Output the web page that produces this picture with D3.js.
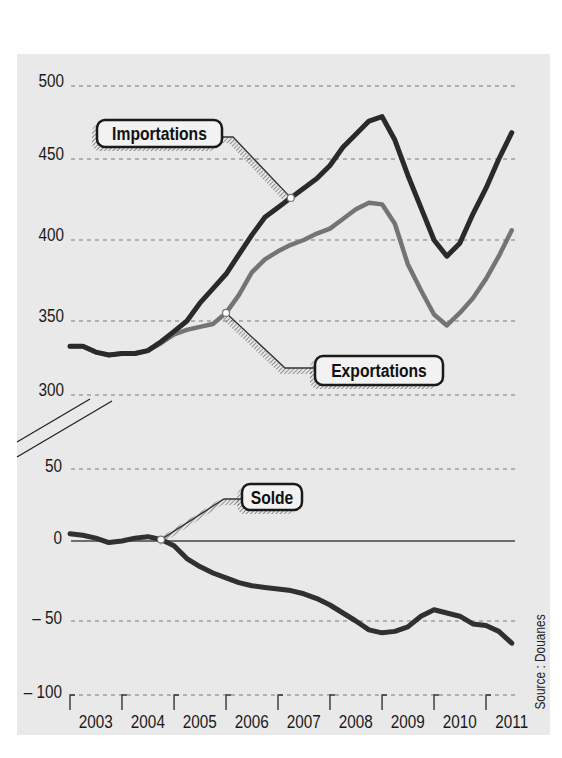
<!DOCTYPE html>
<html><head><meta charset="utf-8">
<script src="https://cdn.jsdelivr.net/npm/d3@7"></script>
<style>body{margin:0;background:#fff}svg{display:block}</style>
</head><body><svg id="c" width="562" height="758"></svg>
<script>
// ---- data (quarterly readings, in billions of euros) ----
const periods = ["2003-01","2003-04","2003-07","2003-10","2004-01","2004-04","2004-07","2004-10",
  "2005-01","2005-04","2005-07","2005-10","2006-01","2006-04","2006-07","2006-10",
  "2007-01","2007-04","2007-07","2007-10","2008-01","2008-04","2008-07","2008-10",
  "2009-01","2009-04","2009-07","2009-10","2010-01","2010-04","2010-07","2010-10",
  "2011-01","2011-04","2011-07"];
const importations = [333,333,329,327,328,328,330,336,343,350,361,370,379,391,403,414,
  420,426,432,438,446,458,467,476,479,463,440,420,400,390,398,416,432,450,468];
const exportations = [333,333,329,327,328,328,330,335,341,344,346,348,355,366,380,388,
  393,397,400,404,407,413,419,423,422,410,385,369,354,347,355,364,376,390,406];
const solde = [5,4,2,-1,0,2,3,1,-3,-11,-16,-20,-23,-26,-28,-29,-30,-31,-33,-36,-40,
  -45,-50,-56,-58,-57,-54,-47,-43,-45,-47,-52,-53,-57,-65];
const upperTicks = [300,350,400,450,500];
const lowerTicks = [-100,-50,0,50];
const years = ["2003","2004","2005","2006","2007","2008","2009","2010","2011"];
const seriesLabels = ["Importations","Exportations","Solde"];
const sourceText = "Source : Douanes";

// ---- setup ----
const svg = d3.select("#c");
const FONT = "'Liberation Sans',Arial,sans-serif";
const parse = d3.timeParse("%Y-%m");
const dates = periods.map(parse);
const x = d3.scaleTime().domain([new Date(2003,0,1), new Date(2011,0,1)]).range([70,486]);
const yU = d3.scaleLinear().domain(upperTicks).range([395,321,240,159,86]);
const yL = d3.scaleLinear().domain(lowerTicks).range([695,621,541,469]);
const gx0 = 71, gx1 = 515;

// condensed text helper
function ntext(g, px, py, str, size, anchor, sx, extra) {
  return g.append("text")
    .attr("transform", `translate(${px},${py})${extra || ""} scale(${sx || 0.85},1)`)
    .attr("text-anchor", anchor).attr("font-family", FONT).attr("font-size", size)
    .attr("fill", "#1a1a1a").text(str);
}

const defs = svg.append("defs");
const pat = defs.append("pattern").attr("id","hatch").attr("width",3).attr("height",3)
  .attr("patternUnits","userSpaceOnUse").attr("patternTransform","rotate(45)");
pat.append("line").attr("x1",0).attr("y1",0).attr("x2",0).attr("y2",3)
  .attr("stroke","#3a3a3a").attr("stroke-width",1.3);

// panel
svg.append("rect").attr("x",17).attr("y",54).attr("width",533).attr("height",681).attr("fill","#e9e9e9");

// gridlines
const grid = svg.append("g").attr("stroke","#7a7a7a").attr("stroke-width",1.2).attr("stroke-dasharray","4,4");
upperTicks.forEach(v => grid.append("line").attr("x1",gx0).attr("x2",gx1).attr("y1",yU(v)).attr("y2",yU(v)));
lowerTicks.filter(v => v !== 0).forEach(v => grid.append("line").attr("x1",gx0).attr("x2",gx1).attr("y1",yL(v)).attr("y2",yL(v)));
// zero line
svg.append("line").attr("x1",gx0).attr("x2",gx1).attr("y1",yL(0)).attr("y2",yL(0))
  .attr("stroke","#444").attr("stroke-width",1.5);

// y labels
const lab = svg.append("g");
upperTicks.forEach(v => ntext(lab, 64, yU(v)+1, v, 18, "end"));
lowerTicks.forEach(v => ntext(lab, 62, yL(v)+3, v < 0 ? "\u2013 " + Math.abs(v) : String(v), 18, "end"));

// axis break marks
const brk = svg.append("g").attr("stroke","#222").attr("stroke-width",1.3);
brk.append("line").attr("x1",90).attr("y1",399).attr("x2",17).attr("y2",442);
brk.append("line").attr("x1",112).attr("y1",401).attr("x2",17).attr("y2",457);

// x ticks and labels
const xt = svg.append("g");
years.forEach(yr => {
  const t = x(new Date(+yr,0,1));
  xt.append("path").attr("d",`M${t+5},${yL(-100)}H${t}V${yL(-100)+15}`)
    .attr("fill","none").attr("stroke","#333").attr("stroke-width",1.4);
  ntext(xt, x(new Date(+yr,6,1)), 728, yr, 18, "middle");
});

// callout geometry
const callouts = [
  {label: seriesLabels[0], i: 17, scale: yU, values: importations, box:[97,120,125,27], path:[[233,137],[222,137]]},
  {label: seriesLabels[1], i: 12, scale: yU, values: exportations, box:[315,356,128,29], path:[[285,368],[315,368]]},
  {label: seriesLabels[2], i: 7, scale: yL, values: solde, box:[242,484,60,26], path:[[224,499],[242,499]]}
];

// leader shadows
callouts.forEach(c => {
  const p = [[x(dates[c.i]), c.scale(c.values[c.i])], ...c.path];
  svg.append("path").attr("d", d3.line()(p)).attr("transform","translate(-3,3)")
    .attr("fill","none").attr("stroke","url(#hatch)").attr("stroke-width",6).attr("opacity",0.8);
});

// series lines
const lineU = d3.line().x((d,i) => x(dates[i])).y(d => yU(d));
const lineL = d3.line().x((d,i) => x(dates[i])).y(d => yL(d));
svg.append("path").attr("d",lineU(exportations)).attr("fill","none").attr("stroke","#747474")
  .attr("stroke-width",4.5).attr("stroke-linejoin","round").attr("stroke-linecap","round");
svg.append("path").attr("d",lineU(importations)).attr("fill","none").attr("stroke","#2a2a2a")
  .attr("stroke-width",5).attr("stroke-linejoin","round").attr("stroke-linecap","round");
svg.append("path").attr("d",lineL(solde)).attr("fill","none").attr("stroke","#303030")
  .attr("stroke-width",5).attr("stroke-linejoin","round").attr("stroke-linecap","round");

// leaders, markers, boxes
callouts.forEach(c => {
  const mx = x(dates[c.i]), my = c.scale(c.values[c.i]);
  svg.append("path").attr("d", d3.line()([[mx,my], ...c.path]))
    .attr("fill","none").attr("stroke","#333").attr("stroke-width",1.4);
  svg.append("circle").attr("cx",mx).attr("cy",my).attr("r",3.5)
    .attr("fill","#fff").attr("stroke","#777").attr("stroke-width",1.2);
  const [bx,by,bw,bh] = c.box;
  svg.append("rect").attr("x",bx-5).attr("y",by+4).attr("width",bw).attr("height",bh).attr("rx",8)
    .attr("fill","url(#hatch)").attr("opacity",0.85);
  svg.append("rect").attr("x",bx).attr("y",by).attr("width",bw).attr("height",bh).attr("rx",8)
    .attr("fill","#f2f2f2").attr("stroke","#1a1a1a").attr("stroke-width",2.5);
  ntext(svg, bx+bw/2, by+bh/2+6.5, c.label, 18, "middle", 0.87)
    .attr("font-weight","bold").attr("fill","#111");
});

// source
ntext(svg, 545, 662, sourceText, 14, "middle", 0.85, " rotate(-90)").attr("fill","#222");
</script></body></html>
